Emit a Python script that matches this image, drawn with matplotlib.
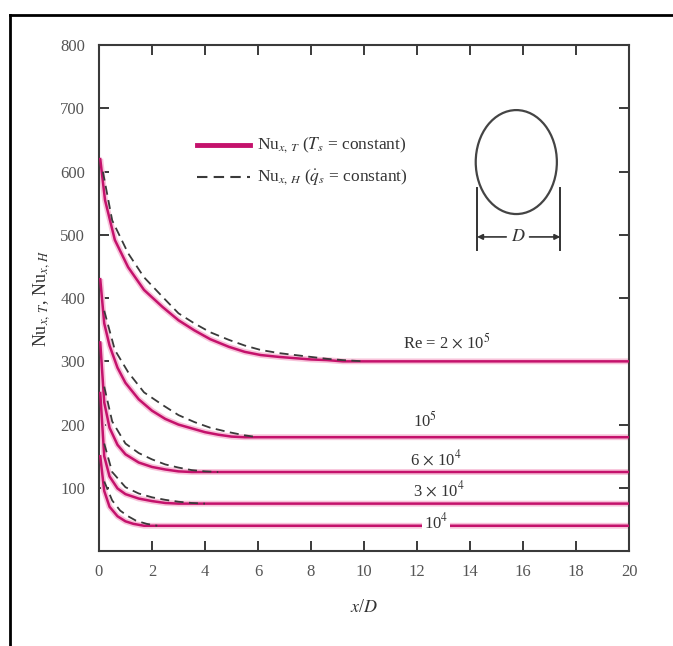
import matplotlib
matplotlib.use("Agg")
import matplotlib.pyplot as plt
from matplotlib.patches import Ellipse
from matplotlib.lines import Line2D

plt.rcParams["font.family"] = ["Liberation Serif", "DejaVu Serif"]
plt.rcParams["mathtext.fontset"] = "stix"

# --- Data (x/D vs Nu) ---
# Re = 2e5
x_2e5_T = [0.05, 0.23, 0.6, 1.1, 1.7, 2.4, 3.0, 3.6, 4.2, 4.9, 5.5, 6.1, 6.8, 7.4, 8.0, 8.6, 9.2, 20]
nu_2e5_T = [620, 555, 492, 449, 413, 386, 365, 349, 335, 323, 315, 310, 307, 305, 303, 302, 300, 300]
x_2e5_H = [0.15, 0.5, 1.1, 1.7, 2.4, 3.0, 3.6, 4.2, 4.9, 5.5, 6.1, 6.8, 7.4, 8.0, 8.6, 9.2, 10.0]
nu_2e5_H = [600, 523, 471, 433, 402, 376, 360, 346, 334, 325, 318, 313, 310, 307, 304, 302, 300]

# Re = 1e5
x_1e5_T = [0.05, 0.2, 0.4, 0.7, 1.0, 1.5, 2.0, 2.5, 3.0, 3.5, 4.0, 4.5, 5.0, 5.5, 20]
nu_1e5_T = [430, 360, 325, 290, 266, 240, 222, 209, 200, 194, 188, 184, 181, 180, 180]
x_1e5_H = [0.2, 0.6, 1.1, 1.7, 2.4, 3.0, 3.6, 4.2, 4.9, 5.5, 6.0]
nu_1e5_H = [380, 318, 283, 251, 231, 215, 204, 195, 188, 183, 180]

# Re = 6e4
x_6e4_T = [0.05, 0.2, 0.4, 0.7, 1.0, 1.5, 2.0, 2.5, 3.0, 3.5, 20]
nu_6e4_T = [330, 235, 195, 168, 153, 140, 133, 129, 126, 125, 125]
x_6e4_H = [0.2, 0.5, 1.0, 1.5, 2.0, 2.5, 3.0, 3.5, 4.0, 4.5]
nu_6e4_H = [260, 205, 170, 155, 145, 137, 132, 128, 126, 125]

# Re = 3e4
x_3e4_T = [0.05, 0.2, 0.4, 0.7, 1.0, 1.5, 2.0, 2.5, 3.0, 20]
nu_3e4_T = [250, 150, 118, 99, 90, 83, 79, 76, 75, 75]
x_3e4_H = [0.2, 0.5, 1.0, 1.5, 2.0, 2.5, 3.0, 3.5, 4.0]
nu_3e4_H = [170, 125, 101, 91, 85, 81, 78, 76, 75]

# Re = 1e4
x_1e4_T = [0.05, 0.2, 0.4, 0.7, 1.0, 1.3, 1.7, 20]
nu_1e4_T = [150, 95, 70, 55, 47, 43, 40, 40]
x_1e4_H = [0.2, 0.5, 0.8, 1.1, 1.4, 1.8, 2.2]
nu_1e4_H = [110, 80, 64, 55, 48, 43, 40]

solid_sets = [(x_2e5_T, nu_2e5_T), (x_1e5_T, nu_1e5_T), (x_6e4_T, nu_6e4_T),
              (x_3e4_T, nu_3e4_T), (x_1e4_T, nu_1e4_T)]
dashed_sets = [(x_2e5_H, nu_2e5_H), (x_1e5_H, nu_1e5_H), (x_6e4_H, nu_6e4_H),
               (x_3e4_H, nu_3e4_H), (x_1e4_H, nu_1e4_H)]

re_labels = [r"Re = 2 $\times$ 10$^5$", r"10$^5$", r"6 $\times$ 10$^4$",
             r"3 $\times$ 10$^4$", r"10$^4$"]
re_label_x = [13.1, 12.3, 12.7, 12.8, 12.7]
re_label_y = [315, 190, 130, 81, 45]

x_ticks = list(range(0, 21, 2))
y_ticks = list(range(100, 801, 100))

MAGENTA = "#c4126c"
HALO = "#f8c3da"
GRAY = "#3a3a3a"

fig = plt.figure(figsize=(6.73, 6.46), dpi=100)
ax = fig.add_axes([0.147, 0.147, 0.788, 0.783])

for xs, ys in solid_sets:
    ax.plot(xs, ys, color=HALO, lw=4.2, solid_capstyle="butt", zorder=2)
    ax.plot(xs, ys, color=MAGENTA, lw=1.8, zorder=3)
for xs, ys in dashed_sets:
    ax.plot(xs, ys, color=GRAY, lw=1.3, dashes=(5, 3), zorder=4)

for lab, lx, ly in zip(re_labels, re_label_x, re_label_y):
    bbox = None
    if lab == r"10$^4$":
        bbox = dict(facecolor="white", edgecolor="none", pad=1.5)
    ax.text(lx, ly, lab, ha="center", va="bottom" if bbox is None else "center",
            fontsize=12, color="#333333", bbox=bbox, zorder=5)

ax.set_xlim(0, 20)
ax.set_ylim(0, 800)
ax.set_xticks(x_ticks)
ax.set_yticks(y_ticks)
ax.tick_params(direction="in", length=7, width=1.4, top=True, right=True,
               labelsize=12, labelcolor="#555555", color=GRAY)
ax.tick_params(axis="y", pad=10)
ax.tick_params(axis="x", pad=9)
for sp in ax.spines.values():
    sp.set_linewidth(1.5)
    sp.set_color(GRAY)

ax.set_xlabel(r"$x$/$D$", fontsize=13, color="#333333", labelpad=14)
ax.set_ylabel(r"Nu$_{x,\,T}$, Nu$_{x,\,H}$", fontsize=13, color="#333333", labelpad=6)

# legend drawn by hand
ax.add_line(Line2D([0.185, 0.285], [0.802, 0.802], transform=ax.transAxes,
                   color=MAGENTA, lw=3.5))
ax.add_line(Line2D([0.185, 0.285], [0.739, 0.739], transform=ax.transAxes,
                   color=GRAY, lw=1.5, dashes=(5, 3)))
ax.text(0.298, 0.802, r"Nu$_{x,\,T}$ ($T_s$ = constant)", transform=ax.transAxes,
        fontsize=12.5, va="center", color="#333333")
ax.text(0.298, 0.739, r"Nu$_{x,\,H}$ ($\dot{q}_s$ = constant)", transform=ax.transAxes,
        fontsize=12.5, va="center", color="#333333")

# tube cross-section sketch
ax.add_patch(Ellipse((0.787, 0.769), 0.153, 0.2055, transform=ax.transAxes,
                     fill=False, edgecolor="#444444", lw=1.6))
for lx in (0.713, 0.870):
    ax.add_line(Line2D([lx, lx], [0.595, 0.717], transform=ax.transAxes,
                       color="#333333", lw=1.4))
ax.annotate("", xy=(0.713, 0.621), xytext=(0.768, 0.621), xycoords="axes fraction",
            arrowprops=dict(arrowstyle="-|>", color="#333333", lw=1.2, mutation_scale=8,
                            shrinkA=0, shrinkB=0))
ax.annotate("", xy=(0.870, 0.621), xytext=(0.812, 0.621), xycoords="axes fraction",
            arrowprops=dict(arrowstyle="-|>", color="#333333", lw=1.2, mutation_scale=8,
                            shrinkA=0, shrinkB=0))
ax.text(0.790, 0.621, r"$D$", transform=ax.transAxes, ha="center", va="center",
        fontsize=13, color="#333333")

# outer frame lines (top and left)
fig.add_artist(Line2D([0.015, 1.0], [0.977, 0.977], transform=fig.transFigure,
                      color="black", lw=2))
fig.add_artist(Line2D([0.015, 0.015], [0.0, 0.977], transform=fig.transFigure,
                      color="black", lw=2))

fig.savefig("out.png", dpi=100)
